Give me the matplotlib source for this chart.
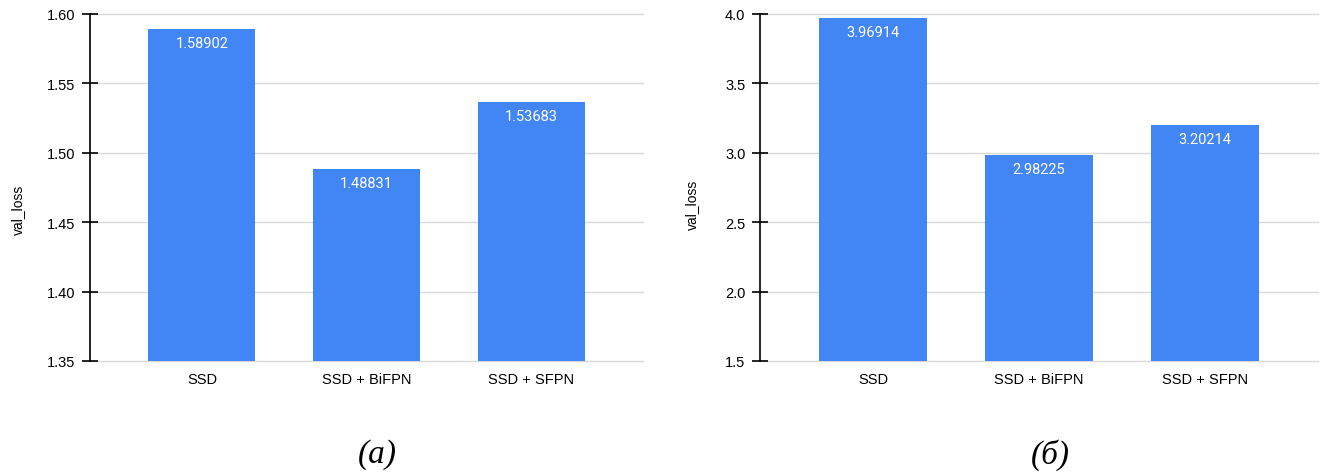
import matplotlib.pyplot as plt
import numpy as np

plt.rcParams['font.family'] = ['Liberation Sans', 'DejaVu Sans']

# Data
models = ['SSD', 'SSD + BiFPN', 'SSD + SFPN']
loss_a = [1.58902, 1.48831, 1.53683]
loss_b = [3.96914, 2.98225, 3.20214]
ylim_a = (1.35, 1.60)
ylim_b = (1.5, 4.0)
ticks_a = [1.35, 1.40, 1.45, 1.50, 1.55, 1.60]
ticks_b = [1.5, 2.0, 2.5, 3.0, 3.5, 4.0]
captions = ['(а)', '(б)']

bar_color = '#4285F4'
grid_color = '#d9d9d9'

fig = plt.figure(figsize=(13.21, 4.77), dpi=100)
ax_a = fig.add_axes([90 / 1321, 115 / 477, 553 / 1321, 347 / 477])
ax_b = fig.add_axes([760 / 1321, 115 / 477, 558 / 1321, 347 / 477])


def draw_panel(ax, values, ylim, ticks, fmt):
    x = np.arange(len(models))
    bars = ax.bar(x, values, width=0.65, color=bar_color, zorder=3)
    for bar, v in zip(bars, values):
        ax.annotate(str(v),
                    xy=(bar.get_x() + bar.get_width() / 2, bar.get_height()),
                    xytext=(0, -5), textcoords='offset points',
                    ha='center', va='top', color='white', fontsize=10.5,
                    family=['Roboto', 'DejaVu Sans'], zorder=4)
    ax.set_xlim(-0.68, 2.68)
    ax.set_ylim(*ylim)
    ax.set_yticks(ticks)
    ax.set_yticklabels([fmt.format(t) for t in ticks])
    ax.set_xticks(x)
    ax.set_xticklabels(models)
    ax.tick_params(axis='x', length=0, pad=8, labelsize=10.5)
    ax.tick_params(axis='y', direction='inout', length=11, width=1.2,
                   pad=5, labelsize=10.5, color='black')
    # horizontal grid, drawn unclipped so the edge lines show fully
    for t in ticks:
        ax.axhline(t, color=grid_color, linewidth=1, zorder=1, clip_on=False)
    for s in ['top', 'right', 'bottom']:
        ax.spines[s].set_visible(False)
    ax.spines['left'].set_color('black')
    ax.spines['left'].set_linewidth(1.2)
    ax.spines['left'].set_zorder(5)


draw_panel(ax_a, loss_a, ylim_a, ticks_a, '{:.2f}')
draw_panel(ax_b, loss_b, ylim_b, ticks_b, '{:.1f}')

fig.text(18 / 1321, 1 - 210 / 477, 'val_loss', rotation=90, ha='center',
         va='center', fontsize=10)
fig.text(692 / 1321, 1 - 205 / 477, 'val_loss', rotation=90, ha='center',
         va='center', fontsize=10)

fig.text(377 / 1321, 1 - 455 / 477, captions[0], ha='center', va='center',
         fontsize=24, style='italic', family=['Liberation Serif', 'DejaVu Serif'])
fig.text(1050 / 1321, 1 - 455 / 477, captions[1], ha='center', va='center',
         fontsize=24, style='italic', family=['Liberation Serif', 'DejaVu Serif'])

plt.savefig('out.png', dpi=100)
